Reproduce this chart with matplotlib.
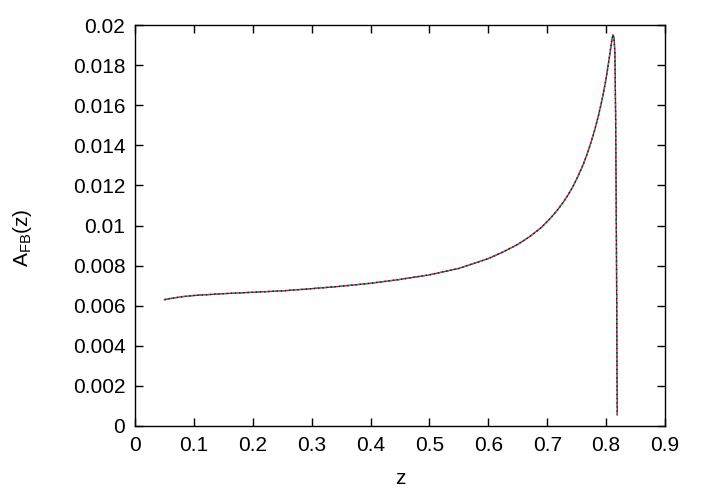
import matplotlib
matplotlib.use("Agg")
import matplotlib.pyplot as plt

plt.rcParams["font.family"] = ["Liberation Sans", "DejaVu Sans"]

# forward-backward asymmetry vs z (three overlapping curves)
z = [0.050, 0.060, 0.080, 0.100, 0.150, 0.200, 0.250, 0.300, 0.350,
     0.400, 0.450, 0.500, 0.550, 0.600, 0.625, 0.650, 0.670, 0.690,
     0.705, 0.716, 0.727, 0.736, 0.744, 0.753, 0.761, 0.768, 0.775,
     0.781, 0.787, 0.793, 0.798, 0.8025, 0.8066, 0.8095,
     0.8117, 0.8135, 0.8150, 0.8162, 0.8172, 0.8180, 0.8186, 0.8190]
afb_a = [0.00630, 0.00636, 0.00645, 0.00651, 0.00660, 0.00667, 0.00674,
         0.00685, 0.00697, 0.00712, 0.00731, 0.00754, 0.00786, 0.00835,
         0.00868, 0.00906, 0.00944, 0.00990, 0.01035, 0.01072, 0.01115,
         0.01155, 0.01196, 0.01250, 0.01303, 0.01358, 0.01420,
         0.01480, 0.01548, 0.01625, 0.01700, 0.01778, 0.01860, 0.01920,
         0.01952, 0.01935, 0.01860, 0.01550, 0.01100, 0.00650, 0.00250,
         0.00055]
afb_b = list(afb_a)
afb_c = list(afb_a)

xticks = [0, 0.1, 0.2, 0.3, 0.4, 0.5, 0.6, 0.7, 0.8, 0.9]
yticks = [0, 0.002, 0.004, 0.006, 0.008, 0.01, 0.012, 0.014, 0.016, 0.018, 0.02]

fig = plt.figure(figsize=(7.01, 4.91), dpi=100, facecolor="white")
ax = fig.add_axes([0.1926, 0.1324, 0.756, 0.8166])

ax.plot(z, afb_a, color="red", lw=1.0)
ax.plot(z, afb_b, color="#00c000", lw=1.0, ls=(0, (3, 3)))
ax.plot(z, afb_c, color="blue", lw=1.0, ls=(0, (1, 2)))

ax.set_xlim(0, 0.9)
ax.set_ylim(0, 0.02)
ax.set_xticks(xticks)
ax.set_yticks(yticks)
ax.set_xticklabels([f"{t:g}" for t in xticks])
ax.set_yticklabels([f"{t:g}" for t in yticks])
ax.tick_params(direction="in", top=True, right=True, length=6, width=1,
               labelsize=15, pad=7)
for s in ax.spines.values():
    s.set_linewidth(1)

ax.set_xlabel("z", fontsize=15, labelpad=10)
ax.set_ylabel(r"A$_{\mathregular{FB}}$(z)", fontsize=15)
ax.yaxis.set_label_coords(-0.19, 0.47)

fig.savefig("out.png", dpi=100, facecolor="white")
